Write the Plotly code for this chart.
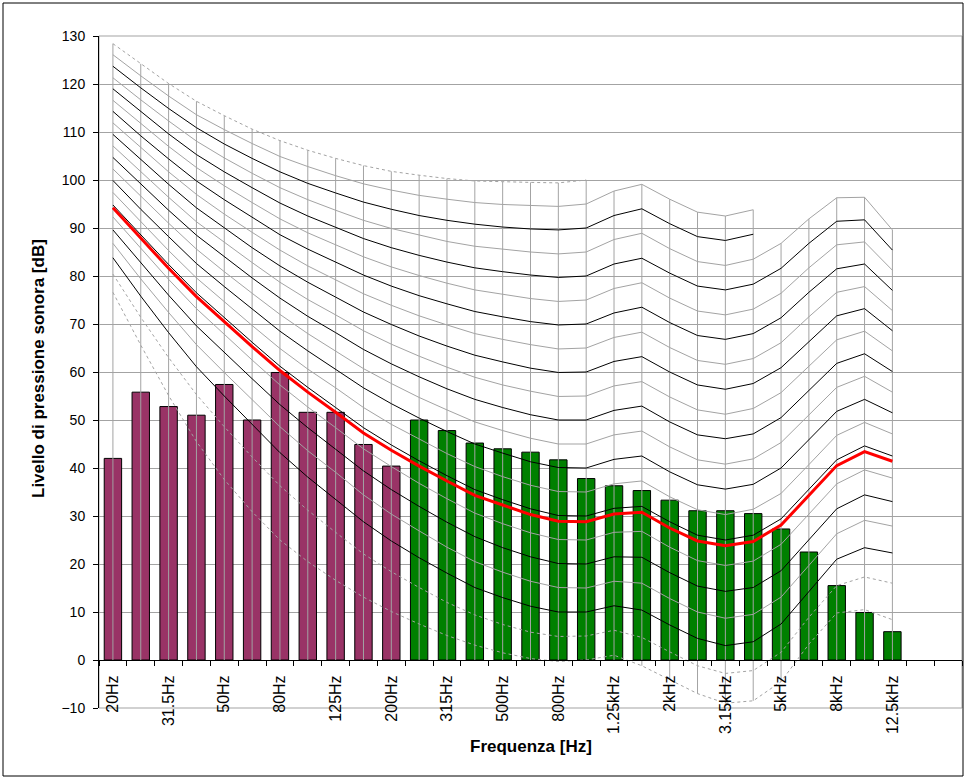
import plotly.graph_objects as go

# ---------------- data ----------------
categories = ["20Hz", "25Hz", "31.5Hz", "40Hz", "50Hz", "63Hz", "80Hz", "100Hz", "125Hz",
              "160Hz", "200Hz", "250Hz", "315Hz", "400Hz", "500Hz", "630Hz", "800Hz", "1kHz",
              "1.25kHz", "1.6kHz", "2kHz", "2.5kHz", "3.15kHz", "4kHz", "5kHz", "6.3kHz",
              "8kHz", "10kHz", "12.5kHz", "16kHz", "20kHz"]
tick_labels = ["20Hz", "31.5Hz", "50Hz", "80Hz", "125Hz", "200Hz", "315Hz", "500Hz", "800Hz",
               "1.25kHz", "2kHz", "3.15kHz", "5kHz", "8kHz", "12.5kHz"]

# measured band levels (dB)
bars_low_bands = [42.0, 55.8, 52.8, 51.0, 57.4, 50.0, 59.9, 51.6, 51.6, 44.9, 40.4]          # 20 Hz .. 200 Hz
bars_high_bands = [50.0, 47.8, 45.2, 44.0, 43.3, 41.7, 37.8, 36.3, 35.3, 33.3, 31.1, 31.1,
                   30.5, 27.3, 22.5, 15.5, 9.9, 5.9]                                          # 250 Hz .. 12.5 kHz

# equal loudness contours (dB), 20 Hz upward
phon_0 = [76.6, 65.6, 55.1, 45.5, 37.6, 30.9, 25.0, 20.5, 16.6, 13.1, 10.1, 7.5, 5.1, 3.1, 1.5, 0.3, -0.3, 0.0, 1.0, -1.2, -4.1, -7.0, -9.0, -8.5, -4.5, 3.3, 9.8, 10.5, 8.4]
phon_5 = [80.4, 71.4, 63.0, 55.3, 48.6, 42.3, 36.3, 31.2, 26.6, 22.1, 18.4, 15.1, 12.0, 9.4, 7.4, 5.8, 4.9, 5.0, 6.2, 4.7, 1.7, -1.2, -2.8, -2.2, 1.6, 8.9, 15.5, 17.3, 16.0]
phon_10 = [83.8, 75.8, 68.2, 61.1, 55.0, 49.0, 43.2, 38.1, 33.5, 28.8, 24.8, 21.3, 18.1, 15.1, 13.0, 11.2, 10.0, 10.0, 11.3, 10.4, 7.3, 4.5, 3.0, 3.8, 7.5, 14.3, 21.0, 23.4, 22.3]
phon_15 = [86.8, 79.4, 72.4, 65.7, 59.9, 54.2, 48.6, 43.6, 39.1, 34.4, 30.4, 26.9, 23.5, 20.5, 18.3, 16.4, 15.1, 15.0, 16.4, 16.0, 12.8, 10.0, 8.7, 9.5, 13.1, 19.7, 26.3, 29.1, 27.9]
phon_20 = [89.6, 82.7, 76.0, 69.6, 64.0, 58.6, 53.2, 48.4, 43.9, 39.4, 35.5, 32.0, 28.7, 25.7, 23.4, 21.5, 20.1, 20.0, 21.5, 21.4, 18.2, 15.4, 14.3, 15.1, 18.6, 25.0, 31.5, 34.4, 33.0]
phon_25 = [92.3, 85.7, 79.3, 73.2, 67.8, 62.5, 57.3, 52.7, 48.4, 44.0, 40.3, 36.8, 33.6, 30.6, 28.4, 26.5, 25.1, 25.0, 26.6, 26.8, 23.5, 20.7, 19.7, 20.6, 24.1, 30.3, 36.7, 39.6, 37.9]
phon_30 = [94.8, 88.5, 82.4, 76.5, 71.3, 66.2, 61.2, 56.8, 52.6, 48.4, 44.8, 41.5, 38.4, 35.5, 33.4, 31.5, 30.1, 30.0, 31.6, 32.0, 28.8, 26.0, 25.0, 26.0, 29.4, 35.5, 41.7, 44.6, 42.5]
phon_35 = [97.4, 91.3, 85.3, 79.6, 74.6, 69.7, 64.9, 60.6, 56.7, 52.6, 49.1, 46.0, 43.0, 40.3, 38.2, 36.4, 35.1, 35.0, 36.7, 37.3, 34.0, 31.3, 30.3, 31.4, 34.7, 40.7, 46.8, 49.5, 47.1]
phon_40 = [99.9, 93.9, 88.2, 82.6, 77.8, 73.1, 68.5, 64.4, 60.6, 56.7, 53.4, 50.4, 47.6, 45.0, 43.1, 41.3, 40.1, 40.0, 41.8, 42.5, 39.2, 36.5, 35.6, 36.6, 40.0, 45.8, 51.8, 54.3, 51.5]
phon_45 = [102.3, 96.6, 91.0, 85.6, 80.9, 76.4, 72.0, 68.0, 64.4, 60.7, 57.6, 54.7, 52.1, 49.6, 47.8, 46.2, 45.0, 45.0, 46.9, 47.7, 44.4, 41.7, 40.8, 41.9, 45.3, 51.0, 56.8, 59.1, 55.8]
phon_50 = [104.7, 99.1, 93.7, 88.5, 84.0, 79.6, 75.4, 71.6, 68.2, 64.7, 61.7, 59.0, 56.5, 54.3, 52.6, 51.1, 50.0, 50.0, 52.0, 52.9, 49.6, 46.9, 46.1, 47.1, 50.5, 56.1, 61.8, 63.8, 60.1]
phon_55 = [107.1, 101.7, 96.4, 91.3, 87.0, 82.8, 78.7, 75.1, 71.9, 68.6, 65.8, 63.3, 61.0, 58.9, 57.3, 56.0, 54.9, 55.0, 57.1, 58.0, 54.8, 52.1, 51.2, 52.4, 55.7, 61.2, 66.7, 68.5, 64.4]
phon_60 = [109.5, 104.2, 99.1, 94.2, 90.0, 85.9, 82.1, 78.7, 75.6, 72.5, 69.9, 67.5, 65.4, 63.5, 62.1, 60.8, 59.9, 60.0, 62.2, 63.2, 60.0, 57.3, 56.4, 57.6, 60.9, 66.4, 71.7, 73.2, 68.6]
phon_65 = [111.9, 106.7, 101.7, 97.0, 92.9, 89.1, 85.4, 82.1, 79.2, 76.3, 73.9, 71.7, 69.8, 68.0, 66.8, 65.7, 64.8, 65.0, 67.2, 68.3, 65.1, 62.4, 61.6, 62.8, 66.1, 71.5, 76.6, 77.8, 72.8]
phon_70 = [114.3, 109.2, 104.4, 99.8, 95.9, 92.2, 88.6, 85.6, 82.9, 80.2, 77.9, 75.9, 74.2, 72.6, 71.5, 70.5, 69.8, 70.0, 72.3, 73.5, 70.3, 67.6, 66.8, 68.0, 71.3, 76.6, 81.5, 82.5, 77.0]
phon_75 = [116.6, 111.7, 107.0, 102.6, 98.8, 95.3, 91.9, 89.0, 86.5, 84.0, 81.9, 80.1, 78.5, 77.1, 76.2, 75.3, 74.7, 75.0, 77.4, 78.6, 75.4, 72.7, 71.9, 73.1, 76.4, 81.7, 86.5, 87.1, 81.2]
phon_80 = [119.0, 114.2, 109.6, 105.3, 101.7, 98.4, 95.2, 92.5, 90.1, 87.8, 85.9, 84.3, 82.9, 81.7, 80.9, 80.2, 79.7, 80.0, 82.5, 83.7, 80.6, 77.9, 77.1, 78.3, 81.6, 86.8, 91.4, 91.7, 85.4]
phon_85 = [121.3, 116.7, 112.3, 108.1, 104.6, 101.4, 98.4, 95.9, 93.7, 91.6, 89.9, 88.5, 87.2, 86.2, 85.6, 85.0, 84.6, 85.0, 87.6, 88.9, 85.7, 83.0, 82.2, 83.5, 86.8, 91.9, 96.3, 96.4, 89.6]
phon_90 = [123.7, 119.2, 114.9, 110.9, 107.5, 104.5, 101.7, 99.3, 97.3, 95.4, 93.9, 92.6, 91.6, 90.8, 90.2, 89.8, 89.6, 90.0, 92.6, 94.0, 90.9, 88.2, 87.4, 88.7]
phon_95 = [126.1, 121.7, 117.5, 113.6, 110.5, 107.6, 104.9, 102.8, 100.9, 99.2, 97.9, 96.8, 96.0, 95.3, 94.9, 94.7, 94.5, 95.0, 97.7, 99.1, 96.0, 93.3, 92.5, 93.8]
phon_100 = [128.4, 124.2, 120.1, 116.4, 113.4, 110.6, 108.2, 106.2, 104.5, 103.0, 101.8, 101.0, 100.3, 99.8, 99.6, 99.5, 99.4, 100.0]
# loudness contour of the measured spectrum (red)
loudness_contour = [94.2, 87.8, 81.6, 75.7, 70.4, 65.3, 60.3, 55.8, 51.6, 47.3, 43.7, 40.4, 37.3, 34.3, 32.3, 30.3, 28.9, 28.8, 30.4, 30.8, 27.5, 24.8, 23.8, 24.7, 28.1, 34.2, 40.5, 43.4, 41.4]

y_ticks = list(range(-10, 131, 10))

# ---------------- styles ----------------
GRID = "#a3a3a3"
BLACK = "#000000"
pos = {c: i for i, c in enumerate(categories)}
xs = list(range(len(categories)))

fig = go.Figure()

# bars
fig.add_trace(go.Bar(x=xs[:len(bars_low_bands)], y=bars_low_bands, width=0.625,
                     marker=dict(color="#993366", line=dict(color=BLACK, width=1))))
fig.add_trace(go.Bar(x=xs[len(bars_low_bands):len(bars_low_bands) + len(bars_high_bands)],
                     y=bars_high_bands, width=0.625,
                     marker=dict(color="#008000", line=dict(color=BLACK, width=1))))

contours = [
    (phon_0, GRID, "3px,3px"), (phon_5, GRID, "3px,3px"),
    (phon_10, BLACK, "solid"), (phon_15, GRID, "solid"), (phon_20, BLACK, "solid"),
    (phon_25, GRID, "solid"), (phon_30, BLACK, "solid"), (phon_35, GRID, "solid"),
    (phon_40, BLACK, "solid"), (phon_45, GRID, "solid"), (phon_50, BLACK, "solid"),
    (phon_55, GRID, "solid"), (phon_60, BLACK, "solid"), (phon_65, GRID, "solid"),
    (phon_70, BLACK, "solid"), (phon_75, GRID, "solid"), (phon_80, BLACK, "solid"),
    (phon_85, GRID, "solid"), (phon_90, BLACK, "solid"), (phon_95, GRID, "solid"),
    (phon_100, GRID, "3px,3px"),
]

# high-low lines (from the lowest to the highest contour of each band, never above 0 at the bottom)
n_bands = len(phon_0)
hx, hy = [], []
for i in range(n_bands):
    vals = [c[0][i] for c in contours if i < len(c[0])] + [loudness_contour[i]]
    hx += [xs[i], xs[i], None]
    hy += [min(0, min(vals)), max(vals), None]
fig.add_trace(go.Scatter(x=hx, y=hy, mode="lines", line=dict(color=GRID, width=1), hoverinfo="skip"))

for vals, col, dash in contours:
    fig.add_trace(go.Scatter(x=xs[:len(vals)], y=vals, mode="lines",
                             line=dict(color=col, width=1, dash=dash)))

fig.add_trace(go.Scatter(x=xs[:len(loudness_contour)], y=loudness_contour, mode="lines",
                         line=dict(color="#ff0000", width=3)))

# ---------------- layout ----------------
L, R, T, B = 99, 4, 36, 72
W, H = 966, 780
pw, ph = W - L - R, H - T - B

def px_x(p):
    return (p - L) / pw

def px_y(p):
    return (H - B - p) / ph

fig.update_layout(
    width=W, height=H, margin=dict(l=L, r=R, t=T, b=B),
    plot_bgcolor="white", paper_bgcolor="white", showlegend=False,
    font=dict(family="Arial, Liberation Sans, sans-serif", size=12, color="black"),
    xaxis=dict(range=[-0.5, len(categories) - 0.5], anchor="free", position=10 / 140,
               showline=True, linecolor=BLACK, linewidth=1, showgrid=False, zeroline=False,
               tickmode="array", tickvals=[pos[t] for t in tick_labels], ticktext=tick_labels,
               ticks="", tickangle=-90, ticklabelstandoff=8, tickfont=dict(size=16),
               minor=dict(tickmode="array", tickvals=[i - 0.5 for i in range(len(categories) + 1)],
                          ticks="outside", ticklen=5, tickcolor=BLACK, tickwidth=1, showgrid=False)),
    yaxis=dict(range=[-10, 130], tickmode="array", tickvals=y_ticks,
               showline=True, linecolor=BLACK, linewidth=1, showgrid=True, gridcolor=GRID,
               gridwidth=1, zeroline=False, ticks="outside", ticklen=5, tickcolor=BLACK,
               ticklabelstandoff=5, tickfont=dict(size=14)),
    shapes=[
        dict(type="rect", xref="paper", yref="paper", x0=0, x1=1, y0=0, y1=1,
             line=dict(color=GRID, width=1), layer="below"),
        dict(type="rect", xref="paper", yref="paper", x0=px_x(3), x1=px_x(963),
             y0=px_y(776), y1=px_y(3), line=dict(color=BLACK, width=1)),
    ],
    annotations=[
        dict(text="<b>Livello di pressione sonora [dB]</b>", xref="paper", yref="paper",
             x=px_x(38), y=px_y(369), textangle=-90, showarrow=False, font=dict(size=17),
             xanchor="center", yanchor="middle"),
        dict(text="<b>Frequenza [Hz]</b>", xref="paper", yref="paper",
             x=px_x(531), y=px_y(746), showarrow=False, font=dict(size=17),
             xanchor="center", yanchor="middle"),
    ],
)

fig.write_html("out.html", config={"displayModeBar": False},
               post_script="document.body.style.margin='0px';")
